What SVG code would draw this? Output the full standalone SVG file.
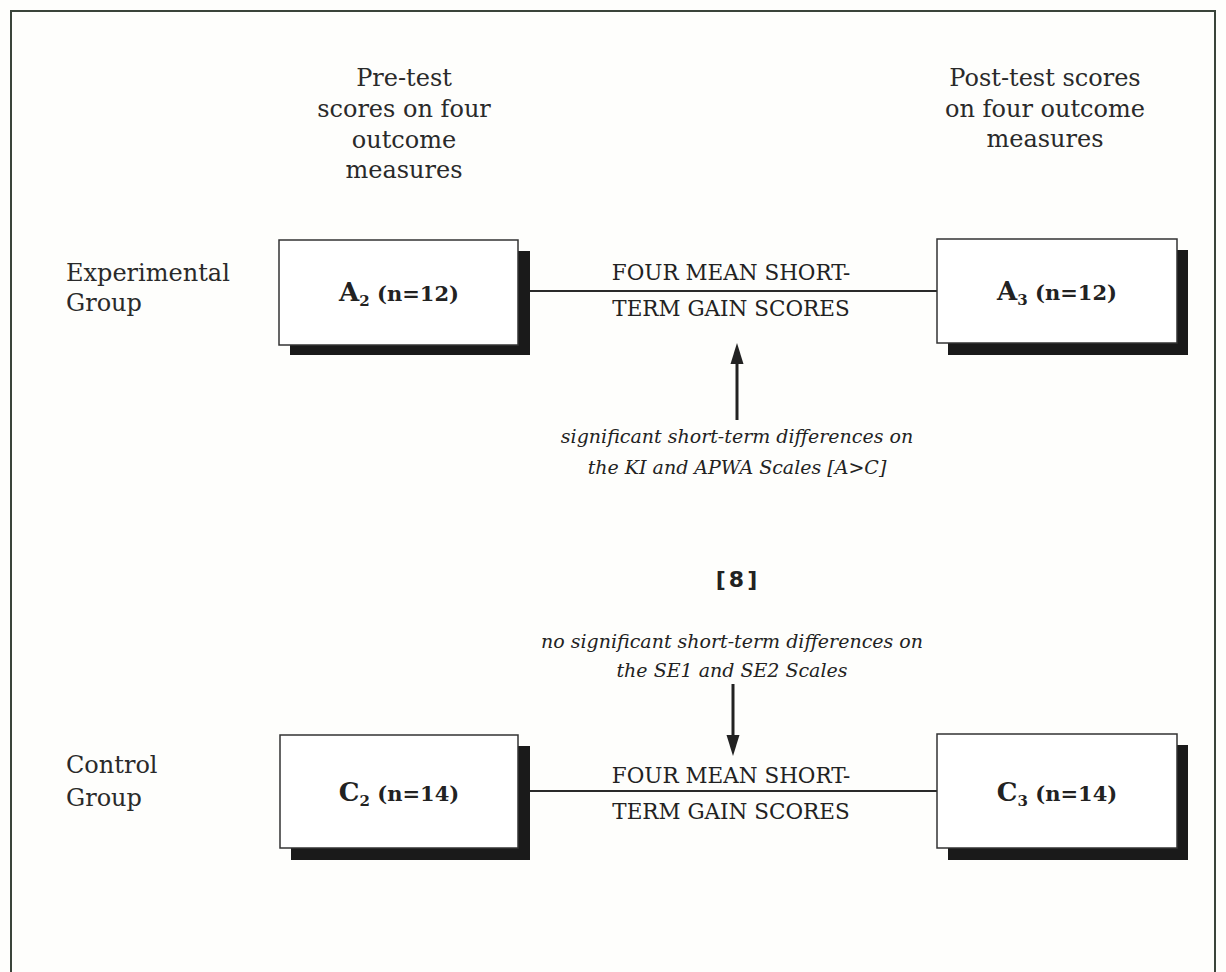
<svg xmlns="http://www.w3.org/2000/svg" width="1226" height="972" viewBox="0 0 1226 972">
<style>
.hd{font-family:"DejaVu Serif","Liberation Serif",serif;font-size:24px;fill:#2a2a2a;text-anchor:middle}
.grp{font-family:"DejaVu Serif","Liberation Serif",serif;font-size:24px;fill:#2a2a2a}
.bx{fill:#fff;stroke:#333;stroke-width:1.5}
.sh{fill:#1a1a1a}
.lbl{font-family:"DejaVu Serif","Liberation Serif",serif;font-weight:bold;fill:#222;text-anchor:middle}
.cap{font-family:"DejaVu Serif","Liberation Serif",serif;font-size:21.5px;fill:#222;text-anchor:middle}
.it{font-family:"DejaVu Serif","Liberation Serif",serif;font-style:italic;font-size:19px;fill:#222;text-anchor:middle}
.ref{font-family:"DejaVu Sans","Liberation Sans",sans-serif;font-weight:bold;font-size:22px;fill:#222;text-anchor:middle;letter-spacing:3px}
.ln{stroke:#2a2a2a;stroke-width:2;fill:none}
.ar{stroke:#222;stroke-width:3;fill:none}
.hd2{fill:#222}
</style>
<rect width="1226" height="972" fill="#fefefc"/>
<rect x="11" y="11" width="1204" height="980" fill="none" stroke="#3a443a" stroke-width="2"/>

<g id="head-pre">
<text class="hd" x="404" y="86">Pre-test</text>
<text class="hd" x="404" y="117">scores on four</text>
<text class="hd" x="404" y="148">outcome</text>
<text class="hd" x="404" y="178">measures</text>
</g>
<g id="head-post">
<text class="hd" x="1045" y="86" font-size="23">Post-test scores</text>
<text class="hd" x="1045" y="117" font-size="23">on four outcome</text>
<text class="hd" x="1045" y="147" font-size="23">measures</text>
</g>
<g id="label-exp">
<text class="grp" x="66" y="281" font-size="25">Experimental</text>
<text class="grp" x="66" y="311" font-size="25">Group</text>
</g>
<g id="label-ctl">
<text class="grp" x="66" y="773" font-size="25">Control</text>
<text class="grp" x="66" y="806" font-size="25">Group</text>
</g>

<g id="connectors">
<line class="ln" x1="530" y1="291" x2="937" y2="291"/>
<line class="ln" x1="530" y1="791" x2="937" y2="791"/>
<line class="ar" x1="737" y1="420" x2="737" y2="360"/>
<polygon class="hd2" points="737,343 730.5,364 743.5,364"/>
<line class="ar" x1="733" y1="684" x2="733" y2="738"/>
<polygon class="hd2" points="733,756 726.5,735 739.5,735"/>
<text class="cap" x="731" y="280">FOUR MEAN SHORT-</text>
<text class="cap" x="731" y="316">TERM GAIN SCORES</text>
<text class="cap" x="731" y="783">FOUR MEAN SHORT-</text>
<text class="cap" x="731" y="819">TERM GAIN SCORES</text>
</g>

<g id="A2">
<rect class="sh" x="290" y="251" width="240" height="104"/>
<rect class="bx" x="279" y="240" width="239" height="105"/>
<text class="lbl" x="399" y="301" font-size="26">A<tspan font-size="15" dy="5">2</tspan><tspan dy="-5" font-size="21"> (n=12)</tspan></text>
</g>
<g id="A3">
<rect class="sh" x="948" y="250" width="240" height="105"/>
<rect class="bx" x="937" y="239" width="240" height="104"/>
<text class="lbl" x="1057" y="300" font-size="26">A<tspan font-size="15" dy="5">3</tspan><tspan dy="-5" font-size="21"> (n=12)</tspan></text>
</g>
<g id="C2">
<rect class="sh" x="291" y="746" width="239" height="114"/>
<rect class="bx" x="280" y="735" width="238" height="113"/>
<text class="lbl" x="399" y="801" font-size="26">C<tspan font-size="15" dy="5">2</tspan><tspan dy="-5" font-size="21"> (n=14)</tspan></text>
</g>
<g id="C3">
<rect class="sh" x="948" y="745" width="240" height="115"/>
<rect class="bx" x="937" y="734" width="240" height="114"/>
<text class="lbl" x="1057" y="801" font-size="26">C<tspan font-size="15" dy="5">3</tspan><tspan dy="-5" font-size="21"> (n=14)</tspan></text>
</g>

<g id="note-sig">
<text class="it" x="737" y="443">significant short-term differences on</text>
<text class="it" x="737" y="474">the KI and APWA Scales [A&gt;C]</text>
</g>
<g id="ref">
<text class="ref" x="738" y="587">[8]</text>
</g>
<g id="note-nosig">
<text class="it" x="732" y="648" font-size="19.5">no significant short-term differences on</text>
<text class="it" x="732" y="677" font-size="19.5">the SE1 and SE2 Scales</text>
</g>
</svg>
